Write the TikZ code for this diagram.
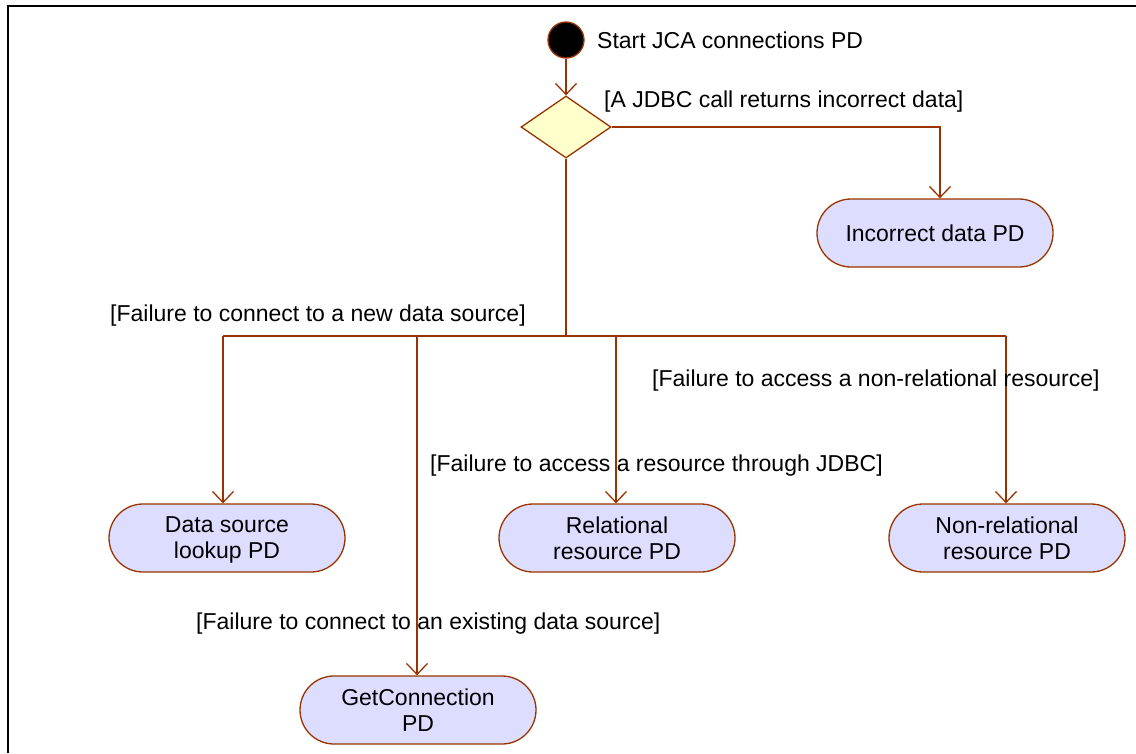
\documentclass[tikz,border=0pt]{standalone}
\usepackage{fontspec}
\setmainfont{Liberation Sans}
\usetikzlibrary{arrows.meta,shapes.geometric}
\definecolor{flow}{RGB}{153,51,0}
\definecolor{actfill}{RGB}{221,221,255}
\definecolor{decfill}{RGB}{255,255,204}
\tikzset{
  flowline/.style={draw=flow, line width=1.3pt},
  arr/.style={flowline, -{Straight Barb[length=11pt,width=21pt,line width=1.3pt]}},
  activity/.style={draw=flow, line width=1.3pt, fill=actfill, rectangle,
    rounded corners=34pt, minimum width=236pt, minimum height=68pt,
    inner sep=0pt, align=center, text depth=0pt,
    font=\fontsize{23}{26}\selectfont},
  decision/.style={draw=flow, line width=1.3pt, fill=decfill, diamond,
    minimum width=90pt, minimum height=62pt, inner sep=0pt},
  startnode/.style={draw=flow, line width=1.3pt, fill=black, circle,
    minimum size=36pt, inner sep=0pt},
  guard/.style={anchor=west, inner sep=0pt, font=\fontsize{23}{26}\selectfont},
}
\begin{document}
\begin{tikzpicture}[x=1pt,y=-1pt]
  \useasboundingbox (0,0) rectangle (1136,753);
  % frame
  \draw[line width=1.5pt] (8,753) -- (8,6) -- (1136,6);

  % start and decision
  \node[startnode] (start) at (566,40) {};
  \node[guard] (startlbl) at (597,40) {Start JCA connections PD};
  \node[decision] (dec) at (566,127) {};
  \draw[arr] (start) -- (dec);

  % activities
  \node[activity] (inc) at (935,233) {Incorrect data PD};
  \node[activity] (ds)  at (227,538) {Data source\\lookup PD};
  \node[activity] (rel) at (617,538) {Relational\\resource PD};
  \node[activity] (nrel) at (1007,538) {Non-relational\\resource PD};
  \node[activity] (gc)  at (418,710) {GetConnection\\PD};

  % incorrect data branch
  \coordinate (incbend) at (940,127);
  \draw[arr] (dec.east) -- (incbend) -- (incbend |- inc.north);
  \node[guard] (g1) at (604,102) {[A JDBC call returns incorrect data]};

  % fork bus
  \coordinate (bus) at (566,336);
  \coordinate (b1) at (223,336);
  \coordinate (b2) at (417,336);
  \coordinate (b3) at (616,336);
  \coordinate (b4) at (1006,336);
  \draw[flowline] (dec.south) -- (bus);
  \draw[flowline] (b1) -- (b4);
  \draw[arr] (b1) -- (b1 |- ds.north);
  \draw[arr] (b2) -- (b2 |- gc.north);
  \draw[arr] (b3) -- (b3 |- rel.north);
  \draw[arr] (b4) -- (b4 |- nrel.north);

  % guards
  \node[guard] (g2) at (110,316) {[Failure to connect to a new data source]};
  \node[guard] (g3) at (652,381) {[Failure to access a non-relational resource]};
  \node[guard] (g4) at (430,466) {[Failure to access a resource through JDBC]};
  \node[guard] (g5) at (196,624) {[Failure to connect to an existing data source]};
\end{tikzpicture}
\end{document}
